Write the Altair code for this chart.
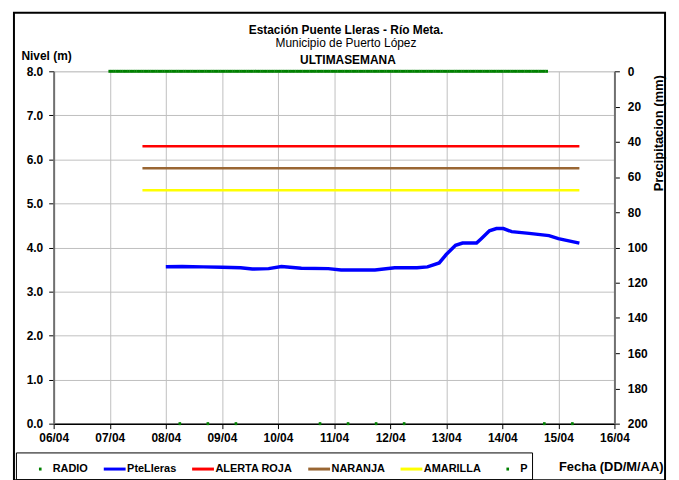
import altair as alt
import pandas as pd

FONT = "Liberation Sans"

# ---- data ----
level_times = [
    "2012-04-08T00:00:00", "2012-04-08T07:00:00", "2012-04-08T16:00:00",
    "2012-04-09T00:00:00", "2012-04-09T08:00:00", "2012-04-09T13:00:00",
    "2012-04-09T20:00:00", "2012-04-10T01:30:00", "2012-04-10T10:00:00",
    "2012-04-10T21:30:00", "2012-04-11T03:00:00", "2012-04-11T17:30:00",
    "2012-04-12T02:00:00", "2012-04-12T11:30:00", "2012-04-12T16:00:00",
    "2012-04-12T21:00:00", "2012-04-13T00:00:00", "2012-04-13T04:00:00",
    "2012-04-13T07:00:00", "2012-04-13T13:00:00", "2012-04-13T15:00:00",
    "2012-04-13T18:30:00", "2012-04-13T21:30:00", "2012-04-14T00:30:00",
    "2012-04-14T04:00:00", "2012-04-14T11:30:00", "2012-04-14T20:00:00",
    "2012-04-15T00:00:00", "2012-04-15T09:00:00",
]
level_values = [
    3.565, 3.57, 3.56, 3.55, 3.54, 3.51, 3.52, 3.57, 3.53, 3.52, 3.49, 3.49,
    3.54, 3.54, 3.56, 3.65, 3.84, 4.05, 4.10, 4.10, 4.20, 4.38, 4.43, 4.43,
    4.36, 4.32, 4.27, 4.20, 4.10,
]

threshold_names = ["ALERTA ROJA", "NARANJA", "AMARILLA"]
threshold_values = [6.3, 5.8, 5.3]
threshold_times = ["2012-04-07T14:00:00", "2012-04-15T09:00:00"]

radio_times = [
    "2012-04-08T06:00:00", "2012-04-08T18:00:00", "2012-04-09T06:00:00",
    "2012-04-10T18:00:00", "2012-04-11T06:00:00", "2012-04-11T18:00:00",
    "2012-04-12T06:00:00", "2012-04-14T18:00:00", "2012-04-15T06:00:00",
]
radio_values = [0.0, 0.0, 0.0, 0.0, 0.0, 0.0, 0.0, 0.0, 0.0]

p_start = "2012-04-07T00:00:00"
p_end = "2012-04-14T19:00:00"
p_times = [t.strftime("%Y-%m-%dT%H:%M:%S") for t in pd.date_range(p_start, p_end, freq="h")]
p_values = [0.0] * len(p_times)

series_names = ["RADIO", "PteLleras", "ALERTA ROJA", "NARANJA", "AMARILLA", "P"]
series_colors = ["#008000", "#0000FF", "#FF0000", "#996633", "#FFFF00", "#008000"]
DOT = "M-0.12,0L0.12,0"
LINE = "M-1,0L1,0"
series_shapes = [DOT, LINE, LINE, LINE, LINE, DOT]

left_ticks = [0, 1, 2, 3, 4, 5, 6, 7, 8]
right_ticks = [0, 20, 40, 60, 80, 100, 120, 140, 160, 180, 200]

# ---- tables ----
level_df = pd.DataFrame({"t": level_times, "v": level_values, "serie": "PteLleras"})
thr_df = pd.DataFrame([
    {"t": t, "v": v, "serie": n}
    for n, v in zip(threshold_names, threshold_values) for t in threshold_times
])
radio_df = pd.DataFrame({"t": radio_times, "v": radio_values, "serie": "RADIO"})
p_df = pd.DataFrame({"t": p_times, "v": p_values, "serie": "P"})

# ---- encodings ----
leg = alt.Legend(
    orient="none", legendX=-38, legendY=384, direction="horizontal",
    strokeColor="black", padding=4, columnPadding=6, symbolOffset=8,
    labelFont=FONT, labelFontSize=11, labelFontWeight="bold", labelColor="black",
    symbolSize=484, symbolStrokeWidth=3, labelOffset=0,
)
color = alt.Color("serie:N", title=None, legend=leg,
                  scale=alt.Scale(domain=series_names, range=series_colors))
shape = alt.Shape("serie:N", title=None, legend=leg,
                  scale=alt.Scale(domain=series_names, range=series_shapes))

xdomain = [alt.DateTime(year=2012, month=4, date=6), alt.DateTime(year=2012, month=4, date=16)]
x_scale = alt.Scale(domain=xdomain, nice=False)
x_axis = alt.Axis(
    format="%d/%m", tickCount=alt.TimeIntervalStep(interval="day", step=1),
    title="Fecha (DD/M/AA)", titleX=614, titleY=43, titleAlign="right", titleBaseline="middle",
    titleFont=FONT, titleFontSize=13, titleFontWeight="bold", titleColor="black",
    labelFont=FONT, labelFontSize=12, labelFontWeight="bold", labelColor="black",
    labelFlush=False, labelOverlap=False, labelPadding=4,
    grid=True, gridColor="#C0C0C0", domainColor="black", domainWidth=1.5,
    tickColor="black", tickSize=5,
)
X = alt.X("t:T", scale=x_scale, axis=x_axis)

top_axis = alt.Axis(
    orient="top", labels=False, ticks=False, domain=False, grid=False,
    title="ULTIMASEMANA", titleX=296, titleY=-12, titleBaseline="middle",
    titleFont=FONT, titleFontSize=12, titleFontWeight="bold", titleColor="black",
)
X_top = alt.X("t:T", scale=x_scale, axis=top_axis)

left_axis = alt.Axis(
    values=left_ticks, format=".1f", title="Nivel (m)", titleAngle=0, titleAlign="left",
    titleX=-33, titleY=-16, titleBaseline="middle",
    titleFont=FONT, titleFontSize=12, titleFontWeight="bold", titleColor="black",
    labelFont=FONT, labelFontSize=12, labelFontWeight="bold", labelColor="black",
    labelPadding=6,
    grid=True, gridColor="#C0C0C0", domainColor="#707070", domainWidth=2,
    tickColor="black", tickSize=5,
)
Y_left = alt.Y("v:Q", scale=alt.Scale(domain=[0, 8], nice=False), axis=left_axis)

right_axis = alt.Axis(
    orient="right", values=right_ticks, format="d", title="Precipitacion (mm)",
    titleAngle=270, titleX=44, titleY=62, titleBaseline="middle",
    titleFont=FONT, titleFontSize=13, titleFontWeight="bold", titleColor="black",
    labelFont=FONT, labelFontSize=12, labelFontWeight="bold", labelColor="black",
    labelPadding=8, grid=False, domainColor="#707070", domainWidth=2,
    tickColor="black", tickSize=5,
)
Y_right = alt.Y("v:Q", scale=alt.Scale(domain=[0, 200], reverse=True, nice=False), axis=right_axis)

# ---- layers ----
frame = alt.Chart(alt.Data(values=[{}])).mark_rect(
    fillOpacity=0, stroke="black", strokeWidth=2
).encode(x=alt.value(-40), x2=alt.value(616), y=alt.value(-59), y2=alt.value(412))

thr = alt.Chart(thr_df).mark_line(strokeWidth=2.5).encode(x=X, y=Y_left, color=color)
blue = alt.Chart(level_df).mark_line(strokeWidth=3.5).encode(x=X, y=Y_left, color=color)
radio = alt.Chart(radio_df).mark_point(filled=False, size=484, strokeWidth=3, opacity=1).encode(
    x=X, y=Y_left, color=color, shape=shape)

p_layer = alt.Chart(p_df).mark_point(filled=False, size=484, strokeWidth=3, opacity=1).encode(
    x=X_top, y=Y_right, color=color, shape=shape)

left = alt.layer(frame, thr, blue, radio)

chart = alt.layer(left, p_layer).resolve_scale(
    y="independent", x="independent"
).properties(
    width=565, height=355,
    padding={"left": 5, "top": 2, "right": 5, "bottom": 0},
    title=alt.TitleParams(
        text="Estación Puente Lleras - Río Meta.", subtitle="Municipio de Puerto López",
        font=FONT, fontSize=12, fontWeight="bold", color="black",
        subtitleFont=FONT, subtitleFontSize=12, subtitleFontWeight="normal", subtitleColor="black",
        subtitlePadding=2, anchor="middle", dx=12, offset=-39,
    ),
).configure_view(stroke=None).configure(background="white")

chart.save("out.html", embed_options={"renderer": "svg", "actions": False})
